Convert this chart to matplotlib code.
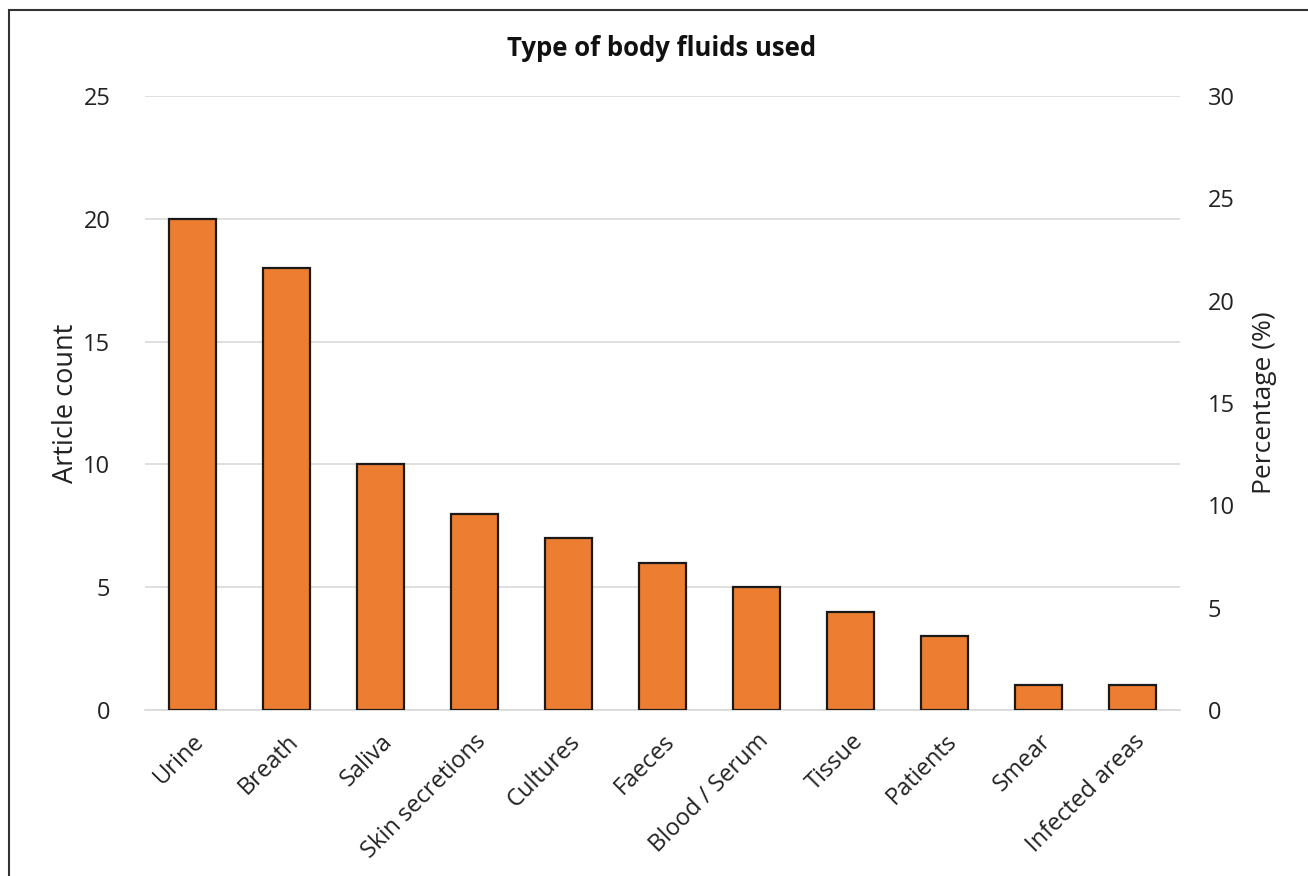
import matplotlib.pyplot as plt
from matplotlib.patches import Rectangle

plt.rcParams['font.family'] = ['Open Sans', 'DejaVu Sans']

categories = ["Urine", "Breath", "Saliva", "Skin secretions", "Cultures", "Faeces",
              "Blood / Serum", "Tissue", "Patients", "Smear", "Infected areas"]
counts = [20, 18, 10, 8, 7, 6, 5, 4, 3, 1, 1]
left_ticks = [0, 5, 10, 15, 20, 25]
right_ticks = [0, 5, 10, 15, 20, 25, 30]

fig = plt.figure(figsize=(13.08, 8.76), dpi=100)
ax = fig.add_axes([145 / 1308, 1 - 710 / 876, (1180 - 145) / 1308, (710 - 96) / 876])

x = range(len(categories))
ax.bar(x, counts, width=0.5, color="#ED7D31", edgecolor="#1a1a1a", linewidth=1.6, zorder=3)
ax.set_xlim(-0.5, len(categories) - 0.5)
ax.set_ylim(0, 25)
ax.set_yticks(left_ticks)
ax.yaxis.grid(True, color="#d9d9d9", linewidth=1.2, zorder=0)
for s in ["top", "right", "left"]:
    ax.spines[s].set_visible(False)
ax.spines["bottom"].set_color("#d9d9d9")
ax.spines["bottom"].set_linewidth(1.2)
ax.tick_params(axis="both", length=0, labelsize=17, colors="#222222")
ax.tick_params(axis="y", pad=25)
ax.set_xticks(list(x))
ax.set_xticklabels(categories, rotation=45, ha="right", rotation_mode="anchor")
ax.tick_params(axis="x", pad=14)
ax.set_ylabel("Article count", fontsize=19.5, color="#222222", labelpad=2)

ax2 = ax.twinx()
ax2.set_ylim(0, 30)
ax2.set_yticks(right_ticks)
for s in ax2.spines.values():
    s.set_visible(False)
ax2.tick_params(axis="y", length=0, labelsize=17, colors="#222222", pad=20)
ax2.set_ylabel("Percentage (%)", fontsize=19, color="#222222", labelpad=12)

fig.text(662 / 1308, 1 - 48 / 876, "Type of body fluids used", ha="center", va="center",
         fontsize=18.5, fontweight="bold", color="#111111")

fig.patches.append(Rectangle((8.5 / 1308, -0.1), 1.2, 1.1 - 10 / 876, transform=fig.transFigure,
                             fill=False, edgecolor="#333333", linewidth=1.5))

fig.savefig("out.png", dpi=100)
